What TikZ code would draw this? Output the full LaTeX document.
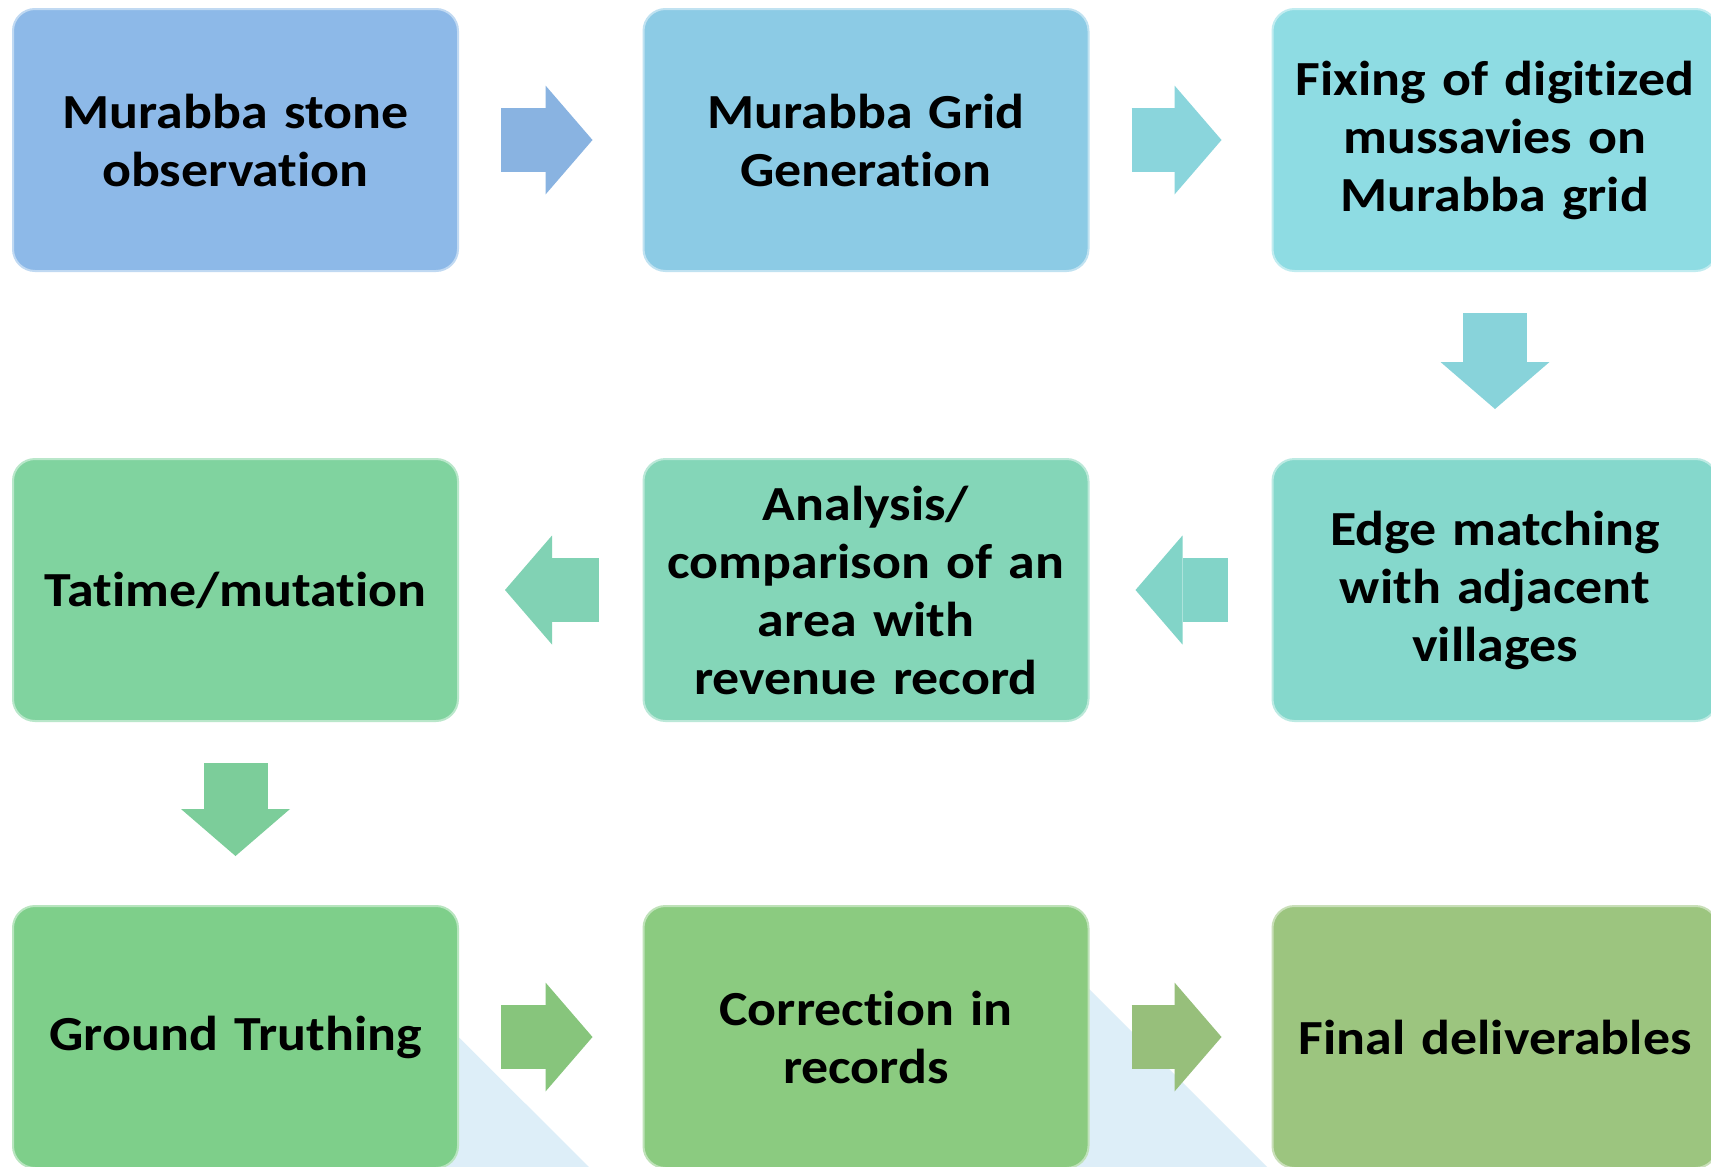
\documentclass[tikz,border=0pt]{standalone}
\usepackage{fontspec}
\newfontfamily\boxfont{Carlito}[FakeStretch=1.1,WordSpace=0.55,Ligatures=NoCommon]
\usetikzlibrary{arrows.meta}

\definecolor{cStone}{HTML}{8DB9E8}
\definecolor{cGrid}{HTML}{8CCBE5}
\definecolor{cFix}{HTML}{8EDCE3}
\definecolor{cEdge}{HTML}{85D8CC}
\definecolor{cComp}{HTML}{84D6B8}
\definecolor{cTat}{HTML}{80D39F}
\definecolor{cGround}{HTML}{7ECF8A}
\definecolor{cCorr}{HTML}{8BCB80}
\definecolor{cFinal}{HTML}{9CC57F}
\definecolor{cBack}{HTML}{DDEEF8}

\begin{document}
\begin{tikzpicture}[x=1pt,y=-1pt,
    box/.style={shape=rectangle,rounded corners=22pt,minimum width=445pt,minimum height=262pt,
      text width=440pt,align=center,inner sep=0pt,fill=#1,draw=#1!55!white,line width=2pt,
      font=\boxfont\bfseries\fontsize{49}{58}\selectfont},
    blk/.style={draw=#1,line width=64pt,-{Triangle[length=47pt,width=109pt,line width=0pt,fill=#1]}},
    rgo/.style={shorten <=42pt,shorten >=50pt},
    lgo/.style={shorten <=44pt,shorten >=46pt},
    dgo/.style={shorten <=41pt,shorten >=49pt}]
    \useasboundingbox (0,0) rectangle (1711,1167);
    \fill[white] (0,0) rectangle (1711,1167);
    % pale shapes in the background
    \fill[cBack] (327,906) -- (589,1167) -- (327,1167) -- cycle;
    \fill[cBack] (1006,906) -- (1267,1167) -- (1006,1167) -- cycle;
    % first row
    \node (stone) at (235.5,140) [box=cStone] {Murabba stone\\observation};
    \node (grid) at (866,140) [box=cGrid] {Murabba Grid\\Generation};
    \node (fix) at (1495,140) [box=cFix] {Fixing of digitized\\mussavies on\\Murabba grid};
    % second row
    \node (edge) at (1495,590) [box=cEdge] {Edge matching\\with adjacent\\villages};
    \node (comp) at (866,590) [box=cComp] {Analysis/\\comparison of an\\area with\\revenue record};
    \node (tat) at (235.5,590) [box=cTat] {Tatime/mutation};
    % third row
    \node (ground) at (235.5,1037) [box=cGround] {Ground Truthing};
    \node (corr) at (866,1037) [box=cCorr] {Correction in\\records};
    \node (final) at (1495,1037) [box=cFinal] {Final deliverables};
    % block arrows
    \draw[blk=cStone!97!black,rgo] (stone.east) -- (grid.west);
    \draw[blk=cFix!97!black,rgo] (grid.east) -- (fix.west);
    \draw[blk=cFix!96!black,dgo] (fix.south) -- (edge.north);
    \draw[blk=cEdge!98!black,lgo] (edge.west) -- (comp.east);
    \draw[blk=cComp!98!black,lgo] (comp.west) -- (tat.east);
    \draw[blk=cTat!97!black,dgo] (tat.south) -- (ground.north);
    \draw[blk=cCorr!97!black,rgo] (ground.east) -- (corr.west);
    \draw[blk=cFinal!97!black,rgo] (corr.east) -- (final.west);
\end{tikzpicture}
\end{document}
